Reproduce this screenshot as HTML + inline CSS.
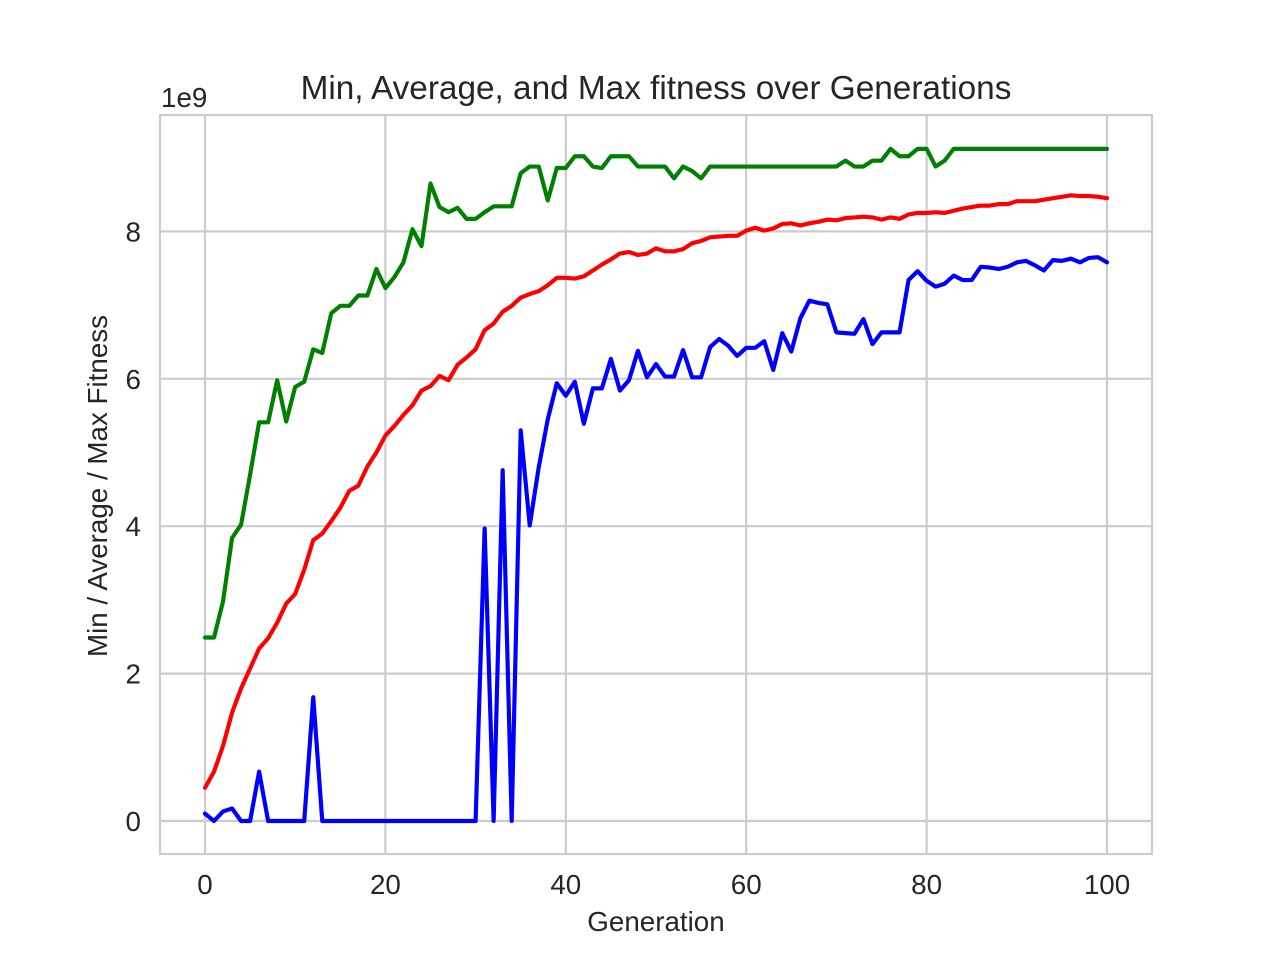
<!DOCTYPE html>
<html>
<head>
<meta charset="utf-8">
<style>
html,body{margin:0;padding:0;background:#fff;}
svg{display:block;}
text{font-family:"Liberation Sans",Arial,sans-serif;fill:#262626;}
</style>
</head>
<body>
<svg id="chart" width="1280" height="960" viewBox="0 0 1280 960" xmlns="http://www.w3.org/2000/svg">
<rect x="0" y="0" width="1280" height="960" fill="#ffffff"/>
<g id="grid"></g>
<rect x="160" y="115" width="992" height="739" fill="none" stroke="#cccccc" stroke-width="2.2"/>
<g id="series"></g>
<g id="ticks"></g>
<text x="656" y="99" font-size="33.33" text-anchor="middle">Min, Average, and Max fitness over Generations</text>
<text x="656" y="931" font-size="27.78" text-anchor="middle">Generation</text>
<text x="0" y="0" font-size="27.78" text-anchor="middle" transform="translate(107 486) rotate(-90)">Min / Average / Max Fitness</text>
<text x="161" y="107" font-size="27.78">1e9</text>
</svg>
<script>
const xTicks = [0, 20, 40, 60, 80, 100];
const yTicks = [0, 2, 4, 6, 8];
const minFitness = [0.10,0,0.13,0.17,0,0,0.67,0,0,0,0,0,1.68,0,0,0,0,0,0,0,0,0,0,0,0,0,0,0,0,0,0,3.97,0,4.76,0,5.30,4.01,4.80,5.45,5.94,5.77,5.96,5.39,5.87,5.87,6.27,5.84,5.98,6.38,6.02,6.20,6.03,6.03,6.39,6.02,6.02,6.43,6.54,6.45,6.31,6.42,6.42,6.51,6.12,6.62,6.37,6.82,7.06,7.03,7.01,6.63,6.62,6.61,6.81,6.47,6.63,6.63,6.63,7.34,7.46,7.33,7.25,7.29,7.40,7.34,7.34,7.52,7.51,7.49,7.52,7.58,7.60,7.54,7.47,7.61,7.60,7.63,7.58,7.64,7.65,7.58];
const avgFitness = [0.45,0.67,1.02,1.47,1.80,2.07,2.34,2.48,2.69,2.95,3.08,3.41,3.81,3.90,4.07,4.25,4.48,4.55,4.81,5.00,5.23,5.36,5.51,5.64,5.84,5.90,6.04,5.98,6.19,6.29,6.40,6.66,6.75,6.91,6.99,7.10,7.15,7.19,7.27,7.37,7.37,7.36,7.39,7.47,7.55,7.62,7.70,7.72,7.68,7.70,7.77,7.73,7.73,7.76,7.84,7.87,7.92,7.93,7.94,7.94,8.01,8.05,8.01,8.04,8.10,8.11,8.08,8.11,8.13,8.16,8.15,8.18,8.19,8.20,8.19,8.16,8.19,8.17,8.23,8.25,8.25,8.26,8.25,8.28,8.31,8.33,8.35,8.35,8.37,8.37,8.41,8.41,8.41,8.43,8.45,8.47,8.49,8.48,8.48,8.47,8.45];
const maxFitness = [2.49,2.49,2.98,3.84,4.02,4.70,5.41,5.41,5.98,5.42,5.89,5.96,6.40,6.35,6.89,6.99,6.99,7.13,7.13,7.49,7.23,7.38,7.58,8.03,7.80,8.65,8.33,8.26,8.32,8.17,8.17,8.26,8.34,8.34,8.34,8.79,8.88,8.88,8.42,8.86,8.86,9.02,9.02,8.88,8.86,9.02,9.02,9.02,8.88,8.88,8.88,8.88,8.72,8.88,8.82,8.72,8.88,8.88,8.88,8.88,8.88,8.88,8.88,8.88,8.88,8.88,8.88,8.88,8.88,8.88,8.88,8.96,8.88,8.88,8.96,8.96,9.12,9.02,9.02,9.12,9.12,8.88,8.96,9.12,9.12,9.12,9.12,9.12,9.12,9.12,9.12,9.12,9.12,9.12,9.12,9.12,9.12,9.12,9.12,9.12,9.12];

const NS = 'http://www.w3.org/2000/svg';
function xScale(v){ return 205 + v * 9.02; }
function yScale(v){ return 821 - v * 73.7; }

const gridGroup = document.getElementById('grid');
const tickGroup = document.getElementById('ticks');
const seriesGroup = document.getElementById('series');

function addGridLine(x1, y1, x2, y2, name){
  const line = document.createElementNS(NS, 'line');
  line.setAttribute('x1', x1);
  line.setAttribute('y1', y1);
  line.setAttribute('x2', x2);
  line.setAttribute('y2', y2);
  line.setAttribute('stroke', '#cccccc');
  line.setAttribute('stroke-width', '2.2');
  
  
  gridGroup.appendChild(line);
}
function addTickLabel(x, y, label, anchor, name){
  const t = document.createElementNS(NS, 'text');
  t.setAttribute('x', x);
  t.setAttribute('y', y);
  t.setAttribute('font-size', '27.78');
  t.setAttribute('text-anchor', anchor);
  t.textContent = label;
  
  
  tickGroup.appendChild(t);
}
xTicks.forEach(function(v){
  addGridLine(xScale(v), 115, xScale(v), 854, 'x-grid-line-' + v);
  addTickLabel(xScale(v), 894, String(v), 'middle', 'x-tick-label-' + v);
});
yTicks.forEach(function(v){
  addGridLine(160, yScale(v), 1152, yScale(v), 'y-grid-line-' + v);
  addTickLabel(141, yScale(v) + 10, String(v), 'end', 'y-tick-label-' + v);
});
function addSeries(values, color, name){
  const path = document.createElementNS(NS, 'polyline');
  path.setAttribute('points', values.map(function(v, i){ return xScale(i).toFixed(2) + ',' + yScale(v).toFixed(2); }).join(' '));
  path.setAttribute('fill', 'none');
  path.setAttribute('stroke', color);
  path.setAttribute('stroke-width', '4.17');
  path.setAttribute('stroke-linejoin', 'round');
  path.setAttribute('stroke-linecap', 'round');
  
  
  seriesGroup.appendChild(path);
}
addSeries(minFitness, '#0000ff', 'min-fitness-line');
addSeries(avgFitness, '#ff0000', 'average-fitness-line');
addSeries(maxFitness, '#008000', 'max-fitness-line');
</script>
</body>
</html>
